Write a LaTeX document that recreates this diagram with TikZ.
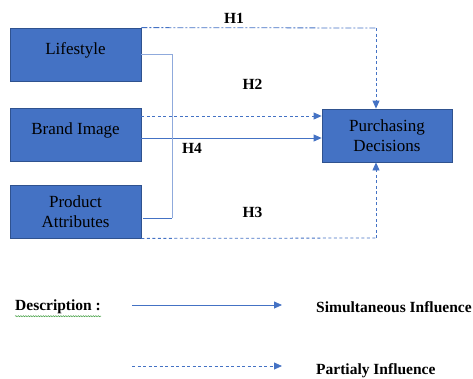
\documentclass[tikz,border=0pt]{standalone}
\usepackage{fontspec}
\setmainfont{Liberation Serif}
\usetikzlibrary{positioning,arrows.meta,decorations.pathmorphing}
\definecolor{boxblue}{HTML}{4472C4}
\definecolor{boxedge}{HTML}{2F528F}
\definecolor{lineblue}{HTML}{4472C4}
\definecolor{brackblue}{HTML}{8FAADC}
\definecolor{spellgreen}{HTML}{3A9A3A}

\begin{document}
\begin{tikzpicture}[x=1pt, y=-1pt,
    varbox/.style={rectangle, draw=boxedge, line width=0.8pt, fill=boxblue, minimum width=131pt, minimum height=53pt, inner sep=0pt, align=center, font=\fontsize{17}{20}\selectfont},
    onebox/.style={varbox, text depth=12pt},
    hlabel/.style={font=\fontsize{15.5}{18}\selectfont\bfseries},
    simul/.style={draw=lineblue, line width=0.8pt, -{Triangle[length=8pt, width=7pt]}},
    partial/.style={draw=lineblue, line width=0.8pt, dash pattern=on 3pt off 2.5pt, -{Triangle[length=8pt, width=7pt]}}
    ]
    \useasboundingbox (0,0) rectangle (473,378);

    % Variables
    \node[onebox] (life) at (75.5,54.5) {Lifestyle};
    \node[onebox] (brand) at (75.5,135) {Brand Image};
    \node[varbox] (prod) at (75.5,211.5) {Product\\Attributes};
    \node[varbox, minimum width=130pt] (purch) at (387,135.5) {Purchasing\\Decisions};

    % Corners of the paths
    \coordinate (h1c) at (376,28);
    \coordinate (h3c) at (376,238);
    \coordinate (brt) at (172,54.5);
    \coordinate (brb) at (172,218);
    \coordinate (brl) at (143,218);

    % H1 (top) and H3 (bottom)
    \draw[draw=lineblue, line width=0.8pt, dash pattern=on 6pt off 2pt on 2pt off 2pt] (life.north east) -- (h1c);
    \draw[partial] (h1c) -- (h1c |- purch.north);
    \draw[draw=lineblue, line width=0.8pt, dash pattern=on 3pt off 2.5pt] (prod.south east) -- (h3c);
    \draw[partial] (h3c) -- (h3c |- purch.south);

    % H2 and H4
    \draw[partial] (brand.east |- 0,116) -- (purch.west |- 0,116);
    \draw[simul] (brand.east |- 0,138) -- (purch.west |- 0,138);

    % Bracket joining the three variables
    \draw[brackblue, line width=1pt] (life.east) -- (brt) -- (brb);
    \draw[lineblue, line width=0.8pt] (brb) -- (brl);

    % Hypothesis labels
    \node[hlabel] (h1) at (234,18) {H1};
    \node[hlabel] (h2) at (252.5,84) {H2};
    \node[hlabel] (h4) at (192,148) {H4};
    \node[hlabel] (h3) at (252.5,212) {H3};

    % Legend
    \node[hlabel, anchor=west, inner sep=0pt] (desc) at (15,307) {Description :};
    \draw[spellgreen, line width=0.5pt, decorate, decoration={snake, amplitude=0.6pt, segment length=2.5pt}] ([yshift=-2pt]desc.south west) -- ([yshift=-2pt]desc.south east);
    \coordinate (s1) at (132,305);
    \coordinate (s2) at (282,305);
    \coordinate (p1) at (132,366);
    \coordinate (p2) at (282,366);
    \draw[simul] (s1) -- (s2);
    \draw[partial] (p1) -- (p2);
    \node[hlabel, anchor=west, inner sep=0pt] (simtxt) at (316,307) {Simultaneous Influence};
    \node[hlabel, anchor=west, inner sep=0pt] (partxt) at (316,371) {Partialy Influence};
\end{tikzpicture}
\end{document}
